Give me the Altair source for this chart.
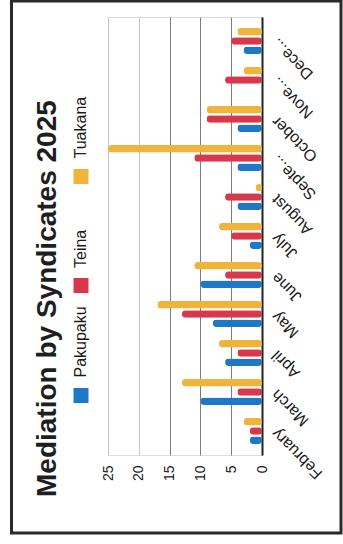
import altair as alt
import pandas as pd

# ---------------- data ----------------
months = ["February", "March", "April", "May", "June", "July", "August",
          "Septe...", "October", "Nove...", "Dece..."]
series = ["Pakupaku", "Teina", "Tuakana"]
pakupaku = [2, 10, 6, 8, 10, 2, 4, 4, 4, 0, 3]
teina = [2, 4, 4, 13, 6, 5, 6, 11, 9, 6, 5]
tuakana = [3, 13, 7, 17, 11, 7, 1, 25, 9, 3, 4]
value_ticks = [0, 5, 10, 15, 20, 25]
colors = ["#1f77c8", "#d8384b", "#f0b43a"]
chart_title = "Mediation by Syndicates 2025"

rows = []
for i, m in enumerate(months):
    for s, vals in zip(series, [pakupaku, teina, tuakana]):
        rows.append({"Month": m, "Syndicate": s, "Count": vals[i]})
df = pd.DataFrame(rows)
legend_df = pd.DataFrame({"Syndicate": series})

FONT = "Liberation Sans"

bars = alt.Chart(df).mark_bar(cornerRadius=3.5).encode(
    x=alt.X(
        "Count:Q",
        scale=alt.Scale(domain=[0, 25], reverse=True, nice=False),
        axis=alt.Axis(
            values=value_ticks, orient="bottom", title=None,
            labelAngle=270, labelAlign="right", labelBaseline="middle",
            labelPadding=10, ticks=False, domain=False, grid=True,
            gridColor={"condition": {"test": "datum.value <= 15", "value": "#7d7d7d"},
                       "value": "#c6c6c6"},
            gridWidth=1, labelFontSize=14, labelColor="#1a1a1a", labelFont=FONT,
        ),
    ),
    y=alt.Y(
        "Month:N",
        sort=months[::-1],
        scale=alt.Scale(paddingInner=0.33, paddingOuter=0.28),
        axis=alt.Axis(
            orient="right", title=None, labelAngle=225, labelAlign="right",
            labelBaseline="middle", labelPadding=12, ticks=False, domain=True,
            domainColor="#222222", domainWidth=2, grid=False, labelFontSize=16,
            labelColor="#1a1a1a", labelFont=FONT, labelOverlap=False,
        ),
    ),
    yOffset=alt.YOffset("Syndicate:N", sort=series[::-1],
                        scale=alt.Scale(paddingInner=0.2)),
    color=alt.Color("Syndicate:N", scale=alt.Scale(domain=series, range=colors),
                    legend=None),
)

legend = alt.Chart(legend_df).mark_point(opacity=0).encode(
    y=alt.Y(
        "Syndicate:N",
        sort=series[::-1],
        scale=alt.Scale(type="point", padding=1.037, align=0.726),
        axis=alt.Axis(
            orient="left", title=None, offset=20, domain=False, grid=False,
            tickSize=15, tickWidth=15,
            tickColor={"condition": [
                {"test": "datum.value === 'Pakupaku'", "value": colors[0]},
                {"test": "datum.value === 'Teina'", "value": colors[1]}],
                "value": colors[2]},
            labelAngle=270, labelAlign="left", labelBaseline="middle",
            labelOffset=-18, labelPadding=-7, labelFontSize=16,
            labelColor="#1a1a1a", labelFont=FONT, labelOverlap=False,
        ),
    )
)

frame = alt.Chart(alt.Data(values=[{}])).mark_rect(
    fillOpacity=0, stroke="#2a2a2a", strokeWidth=3
).encode(
    x=alt.value(-96.5), x2=alt.value(233), y=alt.value(-16), y2=alt.value(516)
)

chart = alt.layer(frame, bars, legend).resolve_scale(
    y="independent"
).resolve_axis(
    y="independent"
).properties(
    width=154,
    height=438,
    autosize=alt.AutoSizeParams(type="none"),
    padding={"left": 108, "top": 17, "right": 81, "bottom": 89},
    title=alt.Title(
        chart_title, orient="left", anchor="start", frame="group",
        fontSize=28, fontWeight="bold", font=FONT, color="#1e1e1e",
        offset=-52, dx=-42,
    ),
).configure_view(stroke=None).configure(background="white")

chart.save("out.html", embed_options={"renderer": "svg", "actions": False})
